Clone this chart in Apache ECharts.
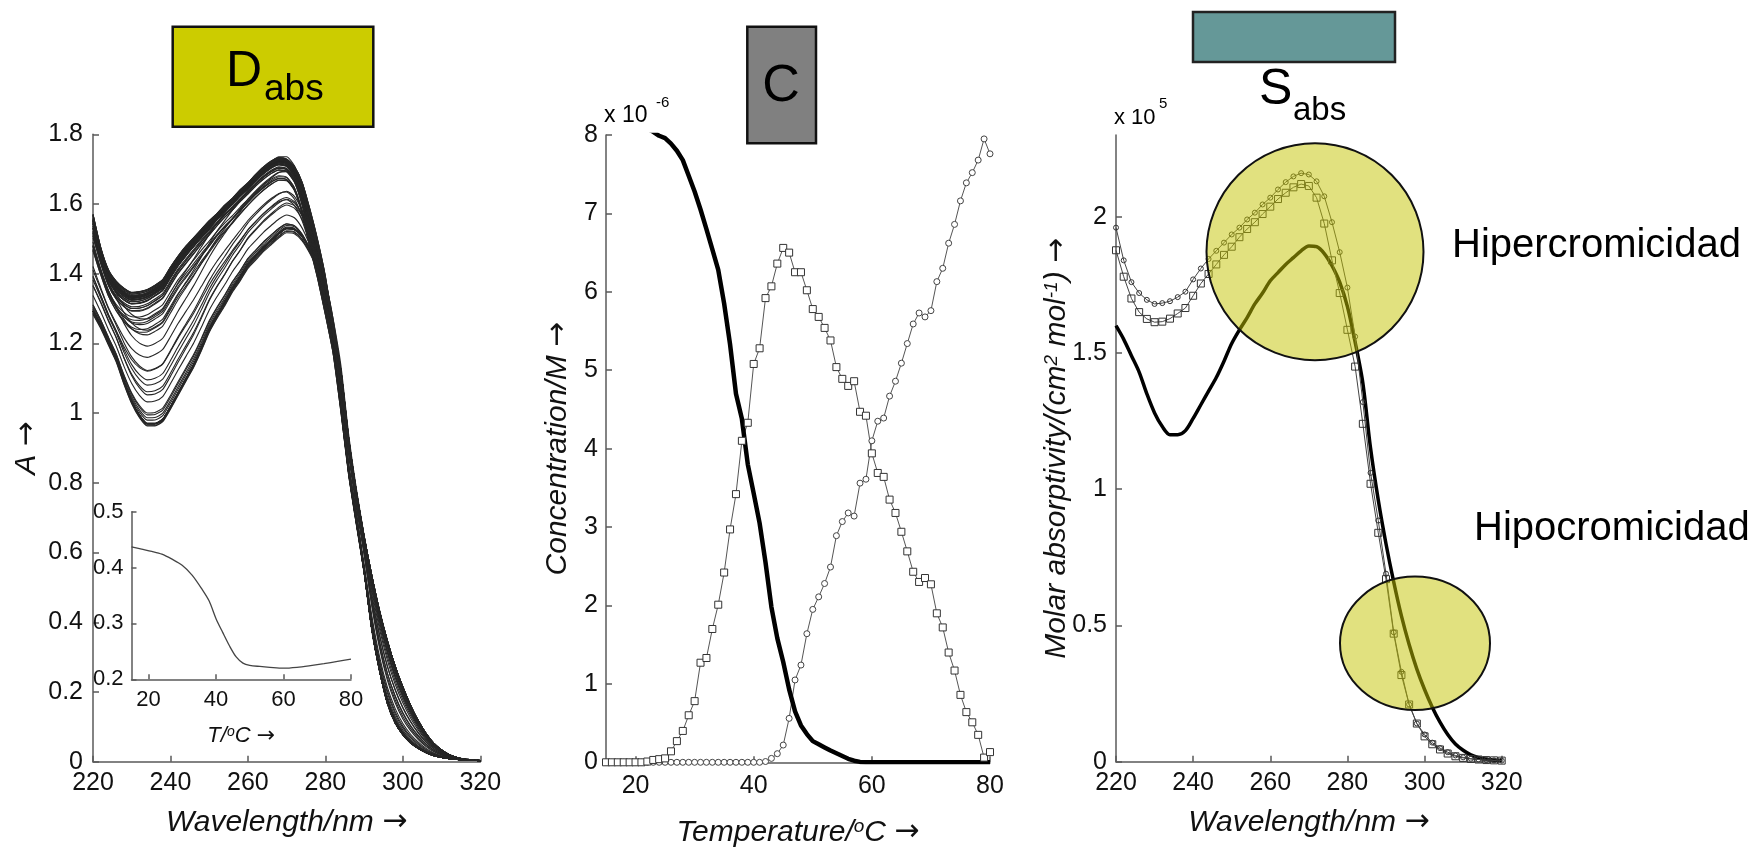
<!DOCTYPE html>
<html>
<head>
<meta charset="utf-8">
<script src="https://cdn.jsdelivr.net/npm/echarts@6/dist/echarts.min.js"></script>
<style>
  html, body { margin: 0; padding: 0; background: #ffffff; }
  #chart { width: 1762px; height: 847px; }
</style>
</head>
<body>
<div id="chart"></div>
<script>
// ---- Wavelength grid (nm) shared by the spectra ----
const wavelengths = [220,222,224,226,228,230,232,234,236,238,240,242,244,246,248,250,252,254,256,258,260,262,264,266,268,270,272,274,276,278,280,282,284,286,288,290,292,294,296,298,300,302,304,306,308,310,312,314,316,318,320];

// ---- Pure-species molar absorptivities (x 10^5 cm^2 mol^-1) ----
const epsNative = [1.60,1.55,1.49,1.43,1.35,1.28,1.23,1.20,1.20,1.215,1.26,1.31,1.36,1.41,1.47,1.535,1.585,1.63,1.68,1.72,1.765,1.795,1.825,1.85,1.875,1.893,1.89,1.865,1.82,1.76,1.67,1.54,1.39,1.15,0.96,0.80,0.66,0.535,0.43,0.34,0.265,0.20,0.145,0.10,0.065,0.042,0.025,0.015,0.009,0.006,0.004];
const epsIntermediate = [1.877,1.78,1.70,1.65,1.625,1.613,1.615,1.626,1.645,1.665,1.71,1.755,1.79,1.825,1.86,1.89,1.925,1.955,1.98,2.01,2.037,2.065,2.088,2.108,2.12,2.113,2.07,1.975,1.84,1.72,1.585,1.45,1.24,1.02,0.84,0.67,0.47,0.318,0.21,0.14,0.093,0.064,0.045,0.03,0.02,0.014,0.01,0.008,0.006,0.005,0.004];
const epsDenatured = [1.96,1.84,1.76,1.72,1.695,1.68,1.683,1.69,1.705,1.725,1.77,1.81,1.845,1.875,1.905,1.935,1.96,1.99,2.015,2.045,2.07,2.10,2.127,2.148,2.16,2.155,2.13,2.075,1.98,1.87,1.74,1.56,1.32,1.06,0.885,0.69,0.475,0.33,0.21,0.14,0.10,0.07,0.05,0.035,0.023,0.016,0.011,0.008,0.006,0.005,0.004];

// ---- Temperatures (deg C) of the melting experiment ----
const temperatures = [15,16,17,18,19,20,21,22,23,24,25,26,27,28,29,30,31,32,33,34,35,36,37,38,39,40,41,42,43,44,45,46,47,48,49,50,51,52,53,54,55,56,57,58,59,60,61,62,63,64,65,66,67,68,69,70,71,72,73,74,75,76,77,78,79,80];

// ---- Concentration profiles (x 10^-6 M) ----
const concNative = [8.08,8.08,8.08,8.08,8.08,8.08,8.08,8.08,8.04,7.99,7.96,7.89,7.80,7.68,7.48,7.28,7.05,6.80,6.54,6.28,5.85,5.33,4.70,4.38,3.80,3.43,3.05,2.55,1.98,1.58,1.28,0.93,0.65,0.47,0.36,0.27,0.23,0.19,0.15,0.115,0.08,0.045,0.02,0.005,0,0,0,0,0,0,0,0,0,0,0,0,0,0,0,0,0,0,0,0,0,0];
const concIntermediate = [0,0,0,0,0,0,0,0.01,0.03,0.04,0.05,0.14,0.27,0.40,0.60,0.78,1.27,1.33,1.70,2.01,2.42,2.97,3.42,4.10,4.33,5.08,5.28,5.92,6.07,6.36,6.56,6.50,6.25,6.25,6.02,5.78,5.68,5.54,5.38,5.04,4.89,4.80,4.86,4.47,4.42,3.94,3.69,3.64,3.35,3.18,2.94,2.69,2.43,2.30,2.35,2.27,1.90,1.72,1.40,1.17,0.86,0.64,0.51,0.35,0.06,0.13];
const concDenatured = [0,0,0,0,0,0,0,0,0,0,0,0,0,0,0,0,0,0,0,0,0,0,0,0,0,0,0,0.01,0.05,0.11,0.22,0.56,1.05,1.24,1.64,1.95,2.11,2.28,2.49,2.89,3.07,3.18,3.14,3.56,3.61,4.10,4.35,4.39,4.67,4.86,5.09,5.34,5.59,5.73,5.68,5.76,6.13,6.30,6.62,6.86,7.16,7.39,7.52,7.68,7.95,7.76];

// ---- Inset: single-wavelength melting curve ----
const insetTemps = [15,18,21,24,27,30,33,36,38,40,42,44,46,48,50,53,56,60,64,68,72,76,80];
const insetAbs = [0.437,0.433,0.429,0.424,0.415,0.404,0.386,0.360,0.340,0.309,0.284,0.260,0.240,0.229,0.225,0.223,0.2215,0.220,0.2215,0.2245,0.228,0.232,0.236];

// ---- Tick positions ----
const tempTicks = [20, 40, 60, 80];
const epsTicks = [0, 0.5, 1, 1.5, 2];

const FONT = '"Liberation Sans", Arial, Helvetica, sans-serif';
const ARROW_FONT = '"DejaVu Sans", sans-serif';
const AXIS_GRAY = '#5a5a5a';

function valueAxis(gridIndex, opts) {
  const labelSize = opts.labelSize || 25;
  const axis = {
    type: 'value',
    gridIndex: gridIndex,
    min: opts.min,
    max: opts.max,
    splitLine: { show: false },
    axisLine: { show: true, onZero: false, lineStyle: { color: AXIS_GRAY, width: 1.5 } },
    axisTick: { show: true, inside: true, length: opts.tickLen || 6, lineStyle: { color: AXIS_GRAY, width: 1.5 } },
    axisLabel: { color: '#111', fontSize: labelSize, fontFamily: FONT, margin: opts.labelMargin || 10 },
    name: opts.name,
    nameLocation: 'middle',
    nameGap: opts.nameGap,
    nameMoveOverlap: false,
    nameTextStyle: {
      fontSize: opts.nameSize || 30, fontStyle: 'italic', color: '#111', fontFamily: FONT,
      rich: opts.rich || undefined
    }
  };
  if (opts.interval != null) axis.interval = opts.interval;
  if (opts.ticks) {
    axis.axisLabel.customValues = opts.ticks;
    axis.axisTick.customValues = opts.ticks;
  }
  return axis;
}

// rich styles: t = title text, s = superscript, a = arrow
function nameRich(size, supSize) {
  return {
    t: { fontSize: size, fontStyle: 'italic', color: '#111', fontFamily: FONT },
    s: { fontSize: supSize, fontStyle: 'italic', color: '#111', fontFamily: FONT, verticalAlign: 'top' },
    a: { fontSize: size, color: '#111', fontFamily: ARROW_FONT }
  };
}

const series = [];

// Absorbance spectra at every temperature: D = C * S^T
// (10^-6 M x 10^5 cm^2 mol^-1 -> factor 0.1)
temperatures.forEach(function (t, i) {
  const pts = wavelengths.map(function (w, j) {
    return [w, 0.1 * (concNative[i] * epsNative[j] + concIntermediate[i] * epsIntermediate[j] + concDenatured[i] * epsDenatured[j])];
  });
  series.push({
    type: 'line', xAxisIndex: 0, yAxisIndex: 0, data: pts,
    symbol: 'none', silent: true, smooth: 0.2,
    lineStyle: { color: '#262626', width: 1.1 }
  });
});

// Inset melting curve
series.push({
  type: 'line', xAxisIndex: 1, yAxisIndex: 1,
  data: insetTemps.map(function (t, i) { return [t, insetAbs[i]]; }),
  symbol: 'none', smooth: 0.3, silent: true,
  lineStyle: { color: '#444', width: 1.3 }
});

// Concentration profiles
series.push({
  type: 'line', xAxisIndex: 2, yAxisIndex: 2,
  data: temperatures.map(function (t, i) { return [t, concDenatured[i]]; }),
  symbol: 'circle', symbolSize: 6, silent: true,
  itemStyle: { color: '#ffffff', borderColor: '#444', borderWidth: 1 },
  lineStyle: { color: '#555', width: 1 }
});
series.push({
  type: 'line', xAxisIndex: 2, yAxisIndex: 2,
  data: temperatures.map(function (t, i) { return [t, concIntermediate[i]]; }),
  symbol: 'rect', symbolSize: 7, silent: true,
  itemStyle: { color: '#ffffff', borderColor: '#333', borderWidth: 1 },
  lineStyle: { color: '#555', width: 1 }
});
series.push({
  type: 'line', xAxisIndex: 2, yAxisIndex: 2,
  data: temperatures.map(function (t, i) { return [t, concNative[i]]; }),
  symbol: 'none', silent: true,
  lineStyle: { color: '#000', width: 4.5 }
});

// Pure spectra
series.push({
  type: 'line', xAxisIndex: 3, yAxisIndex: 3,
  data: wavelengths.map(function (w, j) { return [w, epsNative[j]]; }),
  symbol: 'none', silent: true, smooth: 0.3,
  lineStyle: { color: '#000', width: 3.5 }
});
series.push({
  type: 'line', xAxisIndex: 3, yAxisIndex: 3,
  data: wavelengths.map(function (w, j) { return [w, epsIntermediate[j]]; }),
  symbol: 'rect', symbolSize: 7, silent: true,
  itemStyle: { color: 'rgba(0,0,0,0)', borderColor: '#333', borderWidth: 1 },
  lineStyle: { color: '#444', width: 1 }
});
series.push({
  type: 'line', xAxisIndex: 3, yAxisIndex: 3,
  data: wavelengths.map(function (w, j) { return [w, epsDenatured[j]]; }),
  symbol: 'circle', symbolSize: 5, silent: true,
  itemStyle: { color: 'rgba(0,0,0,0)', borderColor: '#333', borderWidth: 1 },
  lineStyle: { color: '#444', width: 1 }
});

function label(x, y, text, size, align) {
  return {
    type: 'text', x: x, y: y, z: 30,
    style: { text: text, fontSize: size, fontFamily: FONT, fill: '#000', align: align || 'left', verticalAlign: 'middle' }
  };
}

const option = {
  animation: false,
  backgroundColor: '#ffffff',
  textStyle: { fontFamily: FONT },
  grid: [
    { left: 93, top: 134.3, width: 387.3, height: 627.4, containLabel: false, outerBoundsMode: 'none' },
    { left: 131.5, top: 511.7, width: 219.5, height: 167.6, containLabel: false, outerBoundsMode: 'none' },
    { left: 606, top: 135, width: 384, height: 627.3, containLabel: false, outerBoundsMode: 'none' },
    { left: 1116, top: 135, width: 385.7, height: 626.7, containLabel: false, outerBoundsMode: 'none' }
  ],
  xAxis: [
    valueAxis(0, { min: 220, max: 320, interval: 20, name: '{t|Wavelength/nm }{a|\u2192}', rich: nameRich(30, 19), nameGap: 46, labelMargin: 9 }),
    valueAxis(1, { min: 15, max: 80, ticks: tempTicks, labelSize: 22, tickLen: 5, name: '{t|T/}{s|o}{t|C }{a|\u2192}', rich: nameRich(22, 14), nameGap: 46 }),
    valueAxis(2, { min: 15, max: 80, ticks: tempTicks, name: '{t|Temperature/}{s|o}{t|C }{a|\u2192}', rich: nameRich(30, 19), nameGap: 55, labelMargin: 11 }),
    valueAxis(3, { min: 220, max: 320, interval: 20, name: '{t|Wavelength/nm }{a|\u2192}', rich: nameRich(30, 19), nameGap: 46, labelMargin: 9 })
  ],
  yAxis: [
    valueAxis(0, { min: 0, max: 1.8, interval: 0.2, name: '{t|A }{a|\u2192}', rich: nameRich(30, 19), nameGap: 51 }),
    valueAxis(1, { min: 0.2, max: 0.5, interval: 0.1, labelSize: 22, tickLen: 5, labelMargin: 8 }),
    valueAxis(2, { min: 0, max: 8, interval: 1, name: '{t|Concentration/M }{a|\u2192}', rich: nameRich(30, 19), nameGap: 33, labelMargin: 8 }),
    valueAxis(3, { min: 0, max: 2.3, ticks: epsTicks, name: '{t|Molar absorptivity/(cm}{s|2}{t| mol}{s|-1}{t|) }{a|\u2192}', rich: nameRich(30, 19), nameGap: 44, labelMargin: 9 })
  ],
  series: series,
  graphic: [
    // panel headers
    { type: 'rect', z: 20, shape: { x: 172.7, y: 26.7, width: 200.6, height: 100 }, style: { fill: '#cccc00', stroke: '#111', lineWidth: 2.5 } },
    label(226, 72.7, 'D', 50),
    label(264, 90, 'abs', 37),
    { type: 'rect', z: 20, shape: { x: 747.3, y: 26.7, width: 68.7, height: 116.6 }, style: { fill: '#808080', stroke: '#111', lineWidth: 2.5 } },
    label(781, 86.5, 'C', 52, 'center'),
    { type: 'rect', z: 20, shape: { x: 1193, y: 12, width: 202, height: 50 }, style: { fill: '#659898', stroke: '#222', lineWidth: 2.5 } },
    label(1259, 90.7, 'S', 50),
    label(1293, 110.6, 'abs', 33),
    // axis multipliers
    label(604, 116, 'x 10', 23),
    label(656, 103, '-6', 15),
    label(1114, 118, 'x 10', 22),
    label(1159, 104, '5', 15),
    // highlighted regions
    { type: 'circle', z: 25, shape: { cx: 1315, cy: 251.7, r: 108.5 }, style: { fill: 'rgba(195,195,0,0.5)', stroke: '#111', lineWidth: 2 } },
    { type: 'ellipse', z: 25, shape: { cx: 1415, cy: 643.3, rx: 75, ry: 66.7 }, style: { fill: 'rgba(195,195,0,0.5)', stroke: '#111', lineWidth: 2 } },
    label(1452, 246, 'Hipercromicidad', 40),
    label(1474, 529, 'Hipocromicidad', 40)
  ]
};

const chart = echarts.init(document.getElementById('chart'), null, { renderer: 'canvas' });
chart.setOption(option);
</script>
</body>
</html>
